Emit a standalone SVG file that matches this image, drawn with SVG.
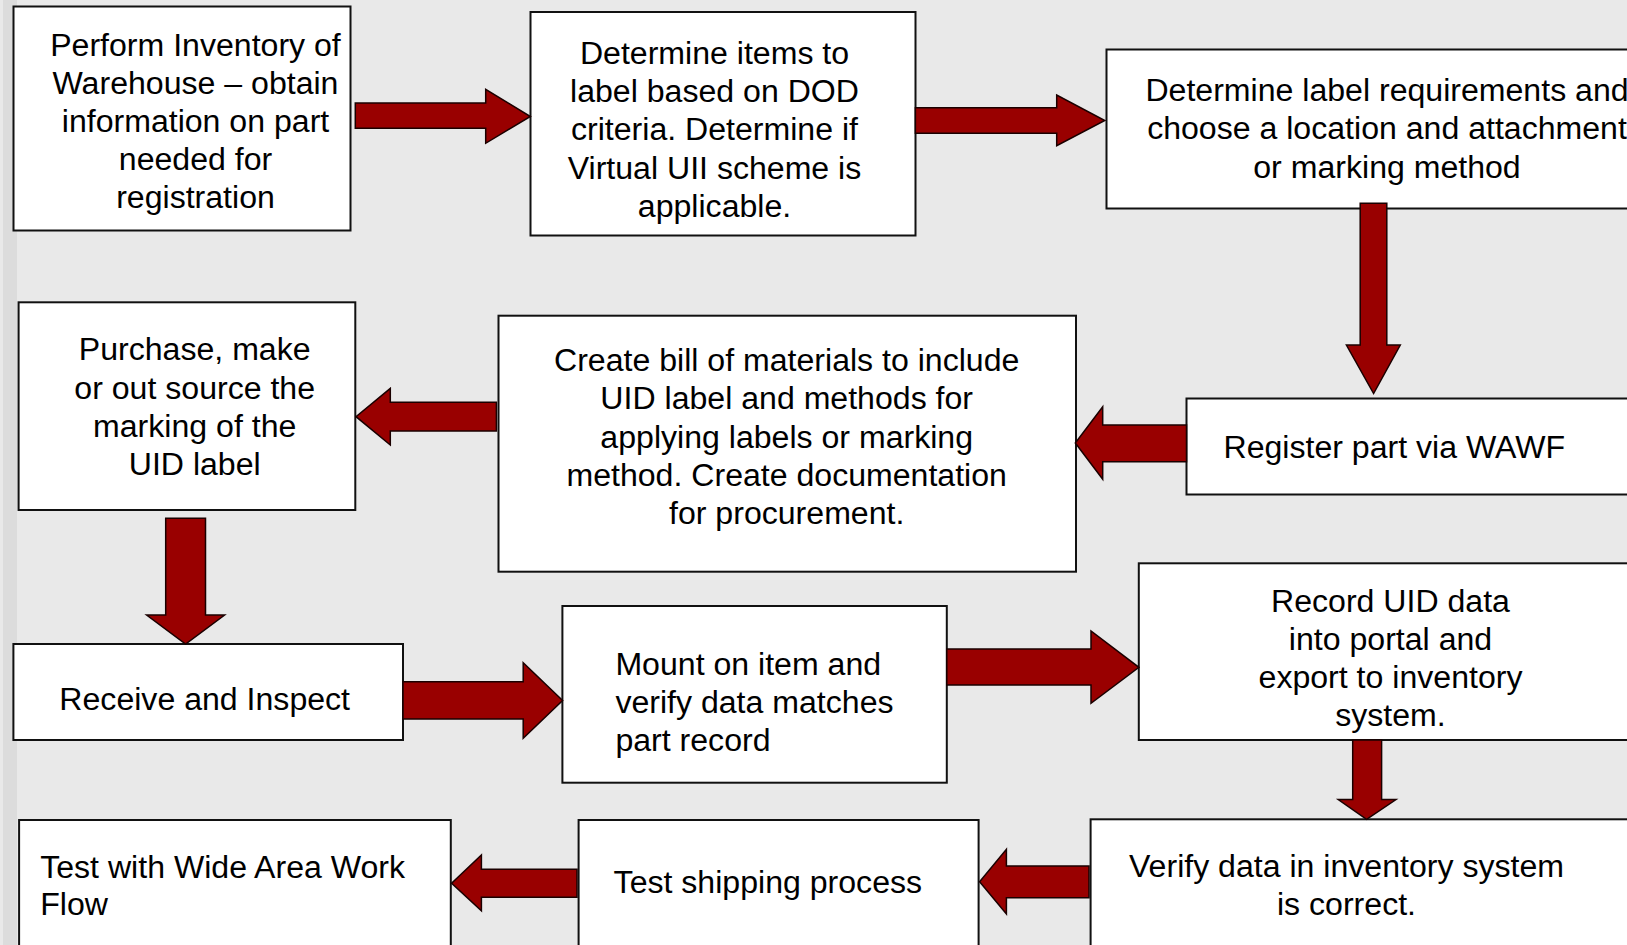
<svg xmlns="http://www.w3.org/2000/svg" width="1627" height="945" viewBox="0 0 1627 945">
<style>
.box{fill:#ffffff;stroke:#111111;stroke-width:2}
.arr{fill:#990000;stroke:#1a0000;stroke-width:1.5;stroke-linejoin:miter}
text{font-family:"Liberation Sans",Arial,sans-serif;font-size:32.1px;fill:#000000}
.c{text-anchor:middle}
</style>
<rect x="0" y="0" width="1627" height="945" fill="#e9e9e9"/>
<rect x="3" y="0" width="14" height="945" fill="#dcdcdc"/>

<g id="n1">
<rect class="box" x="13.5" y="6.5" width="337" height="224"/>
<text class="c" x="195.5" y="55.5">Perform Inventory of</text>
<text class="c" x="195.5" y="93.5">Warehouse – obtain</text>
<text class="c" x="195.5" y="131.5">information on part</text>
<text class="c" x="195.5" y="169.5">needed for</text>
<text class="c" x="195.5" y="207.5">registration</text>
</g>
<g id="n2">
<rect class="box" x="530.5" y="12" width="385" height="223.5"/>
<text class="c" x="714.5" y="64">Determine items to</text>
<text class="c" x="714.5" y="102">label based on DOD</text>
<text class="c" x="714.5" y="140">criteria. Determine if</text>
<text class="c" x="714.5" y="178.5">Virtual UII scheme is</text>
<text class="c" x="714.5" y="216.5">applicable.</text>
</g>
<g id="n3">
<rect class="box" x="1106.5" y="49.5" width="540" height="159"/>
<text class="c" x="1387" y="101">Determine label requirements and</text>
<text class="c" x="1387" y="139.3">choose a location and attachment</text>
<text class="c" x="1387" y="177.5">or marking method</text>
</g>
<g id="n4">
<rect class="box" x="1186.5" y="398.5" width="460" height="96"/>
<text x="1223.5" y="458">Register part via WAWF</text>
</g>
<g id="n5">
<rect class="box" x="498.5" y="315.7" width="577.5" height="256"/>
<text class="c" x="786.7" y="370.5">Create bill of materials to include</text>
<text class="c" x="786.7" y="409">UID label and methods for</text>
<text class="c" x="786.7" y="447.5">applying labels or marking</text>
<text class="c" x="786.7" y="486">method. Create documentation</text>
<text class="c" x="786.7" y="524">for procurement.</text>
</g>
<g id="n6">
<rect class="box" x="18.6" y="302.3" width="336.7" height="207.7"/>
<text class="c" x="194.7" y="360.3">Purchase, make</text>
<text class="c" x="194.7" y="398.7">or out source the</text>
<text class="c" x="194.7" y="436.9">marking of the</text>
<text class="c" x="194.7" y="475.3">UID label</text>
</g>
<g id="n7">
<rect class="box" x="13.4" y="644" width="389.6" height="96"/>
<text class="c" x="204.7" y="709.8">Receive and Inspect</text>
</g>
<g id="n8">
<rect class="box" x="562.4" y="606" width="384.4" height="176.7"/>
<text x="615.4" y="674.5">Mount on item and</text>
<text x="615.4" y="712.5">verify data matches</text>
<text x="615.4" y="750.5">part record</text>
</g>
<g id="n9">
<rect class="box" x="1138.8" y="563.3" width="510" height="176.7"/>
<text class="c" x="1390.5" y="611.7">Record UID data</text>
<text class="c" x="1390.5" y="650">into portal and</text>
<text class="c" x="1390.5" y="687.9">export to inventory</text>
<text class="c" x="1390.5" y="725.9">system.</text>
</g>
<g id="n10">
<rect class="box" x="1090.6" y="819.3" width="560" height="140"/>
<text class="c" x="1346.5" y="877">Verify data in inventory system</text>
<text class="c" x="1346.5" y="915.3">is correct.</text>
</g>
<g id="n11">
<rect class="box" x="578.6" y="820" width="400" height="140"/>
<text x="613.6" y="892.7">Test shipping process</text>
</g>
<g id="n12">
<rect class="box" x="19.1" y="820" width="431.7" height="140"/>
<text x="40.2" y="878">Test with Wide Area Work</text>
<text x="40.2" y="915.3">Flow</text>
</g>

<g id="connectors">
<polygon class="arr" points="355.3,103 485.7,103 485.7,89.3 530.4,116.5 485.7,143.3 485.7,128.3 355.3,128.3"/>
<polygon class="arr" points="915.4,107.7 1056.7,107.7 1056.7,95 1104.8,120.5 1056.7,145.7 1056.7,133.3 915.4,133.3"/>
<polygon class="arr" points="1360.2,203.3 1386.8,203.3 1386.8,345 1400.3,345 1373.6,393.5 1346.4,345 1360.2,345"/>
<polygon class="arr" points="1186.5,425 1102.7,425 1102.7,406.7 1075.3,443 1102.7,479.3 1102.7,461.7 1186.5,461.7"/>
<polygon class="arr" points="496.4,402.3 390.3,402.3 390.3,388.3 356,416.7 390.3,445 390.3,431 496.4,431"/>
<polygon class="arr" points="165.7,518.3 205.5,518.3 205.5,615 224.6,615 185.6,644 146.6,615 165.7,615"/>
<polygon class="arr" points="403,681.7 523.2,681.7 523.2,662.7 562.6,700.5 523.2,738.3 523.2,719 403,719"/>
<polygon class="arr" points="946.8,649 1091,649 1091,631 1138.9,667.3 1091,703.3 1091,685 946.8,685"/>
<polygon class="arr" points="1352.7,740 1381.6,740 1381.6,799.5 1396,799.5 1366.6,819.3 1338.2,799.5 1352.7,799.5"/>
<polygon class="arr" points="1089,866 1006.4,866 1006.4,849.3 979.6,881.7 1006.4,914 1006.4,897.7 1089,897.7"/>
<polygon class="arr" points="577,869.3 481.4,869.3 481.4,855 451.6,883.3 481.4,910.7 481.4,897.3 577,897.3"/>
</g>
</svg>
